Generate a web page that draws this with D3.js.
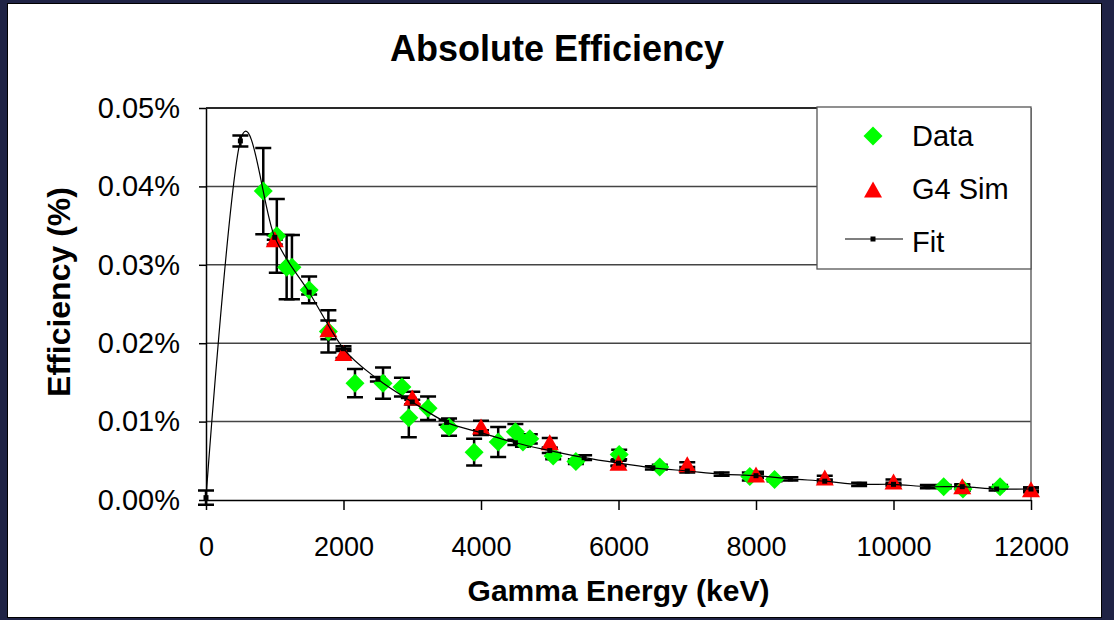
<!DOCTYPE html>
<html>
<head>
<meta charset="utf-8">
<script src="https://cdn.jsdelivr.net/npm/d3@7"></script>
<style>
  html, body { margin: 0; padding: 0; background: #1f2345; }
  svg { display: block; }
  text { font-family: "Liberation Sans", Arial, sans-serif; fill: #000; }
</style>
</head>
<body>
<svg id="chart" width="1114" height="620"></svg>
<script>
// Data series (energy in keV, efficiency in %)
const dataEnergy = [833, 1030, 1173, 1250, 1500, 1780, 2167, 2575, 2850, 2950, 3230, 3535, 3900, 4250, 4500, 4610, 4710, 5050, 5380, 6010, 6600, 7910, 8270, 10730, 11010, 11550];
const dataEff    = [0.0394, 0.0337, 0.0297, 0.0297, 0.0268, 0.0215, 0.0149, 0.0149, 0.0144, 0.0105, 0.0117, 0.0093, 0.0061, 0.0074, 0.0087, 0.0074, 0.0078, 0.0056, 0.0049, 0.0058, 0.0042, 0.0030, 0.0026, 0.0017, 0.0014, 0.0017];
const dataErr    = [0.0055, 0.0047, 0.0041, 0.0041, 0.0017, 0.0027, 0.0018, 0.0020, 0.0012, 0.0025, 0.0015, 0.0011, 0.0017, 0.0019, 0.0010, 0.0006, 0.0006, 0.0004, 0.0003, 0.0006, 0.0003, 0.0005, 0.0002, 0.0002, 0.0002, 0.0002];

// G4 simulation
const simEnergy = [1000, 1780, 2000, 3000, 4000, 5000, 6000, 7000, 8000, 9000, 10000, 11000, 12000];
const simEff    = [0.0332, 0.0217, 0.0187, 0.0130, 0.0093, 0.0073, 0.0047, 0.0045, 0.0032, 0.0028, 0.0023, 0.0017, 0.0013];
const simErr    = [0.0006, 0.0012, 0.0006, 0.0008, 0.0008, 0.0006, 0.0004, 0.0003, 0.0004, 0.0003, 0.0003, 0.0003, 0.0003];

// Fit
const fitEnergy = [0, 500, 1000, 1500, 2000, 2500, 3000, 3500, 4000, 4500, 5000, 5500, 6000, 6500, 7000, 7500, 8000, 8500, 9000, 9500, 10000, 10500, 11000, 11500, 12000];
const fitEff    = [0.0003, 0.0458, 0.0335, 0.0265, 0.0193, 0.0154, 0.0125, 0.0099, 0.0086, 0.0073, 0.0063, 0.0054, 0.0047, 0.0041, 0.0037, 0.0033, 0.0031, 0.0027, 0.0024, 0.0020, 0.0020, 0.0017, 0.0017, 0.0014, 0.0014];
const fitErr    = [0.0009, 0.0007, 0.0003, 0.0003, 0.0003, 0.0003, 0.0003, 0.0003, 0.0003, 0.0003, 0.0003, 0.0003, 0.0003, 0.0002, 0.0002, 0.0002, 0.0002, 0.0002, 0.0002, 0.0002, 0.0002, 0.0002, 0.0002, 0.0002, 0.0002];

const xTicks = [0, 2000, 4000, 6000, 8000, 10000, 12000];
const yTicks = [0, 0.01, 0.02, 0.03, 0.04, 0.05];

const svg = d3.select("#chart");

// Panel blanco
svg.append("rect")
    .attr("x", 7.5).attr("y", 3.5)
    .attr("width", 1094).attr("height", 614)
    .attr("fill", "#fff")
    .attr("stroke", "#000")
    .attr("stroke-width", 1);

const plotLeft = 206, plotRight = 1031, plotTop = 108, plotBottom = 500;
const x = d3.scaleLinear().domain([0, 12000]).range([plotLeft, plotRight]);
const y = d3.scaleLinear().domain([0, 0.05]).range([plotBottom, plotTop]);

// Rejilla
svg.append("g")
    .selectAll("line")
    .data(yTicks.filter(d => d > 0))
    .enter().append("line")
    .attr("x1", plotLeft).attr("x2", plotRight)
    .attr("y1", d => y(d)).attr("y2", d => y(d))
    .attr("stroke", "#444")
    .attr("stroke-width", 1.5);

// Borde derecho del área
svg.append("line")
    .attr("x1", plotRight).attr("x2", plotRight)
    .attr("y1", plotTop).attr("y2", plotBottom)
    .attr("stroke", "#666")
    .attr("stroke-width", 1.5);

// Ejes
const xAxis = svg.append("g")
    .attr("transform", `translate(0,${plotBottom})`)
    .call(d3.axisBottom(x).tickValues(xTicks).tickSize(10).tickSizeOuter(0).tickPadding(27).tickFormat(d3.format("d")));
xAxis.select(".domain").attr("stroke", "#000").attr("stroke-width", 1.5);
xAxis.selectAll(".tick line").attr("stroke", "#000").attr("stroke-width", 1.5);
xAxis.selectAll("text").attr("font-size", 27).attr("font-family", "Liberation Sans, Arial, sans-serif").attr("fill", "#000");

const yAxis = svg.append("g")
    .attr("transform", `translate(${plotLeft},0)`)
    .call(d3.axisLeft(y).tickValues(yTicks).tickSize(7).tickSizeOuter(0).tickPadding(19).tickFormat(d => d.toFixed(2) + "%"));
yAxis.select(".domain").attr("stroke", "#000").attr("stroke-width", 1.5);
yAxis.selectAll(".tick line").attr("stroke", "#000").attr("stroke-width", 1.5);
yAxis.selectAll("text").attr("font-size", 29).attr("font-family", "Liberation Sans, Arial, sans-serif").attr("fill", "#000");

// Barras de error
function errorBars(energy, eff, err) {
    const g = svg.append("g")
        .attr("stroke", "#000")
        .attr("stroke-width", 2.5)
        .attr("fill", "none");
    const rows = energy.map((e, i) => ({ e, v: eff[i], s: err[i] }));
    g.selectAll("path")
        .data(rows)
        .enter().append("path")
        .attr("d", d => {
            const cx = x(d.e), y0 = y(d.v - d.s), y1 = y(d.v + d.s);
            return `M${cx},${y0}V${y1}M${cx - 8},${y0}H${cx + 8}M${cx - 8},${y1}H${cx + 8}`;
        });
}
errorBars(fitEnergy, fitEff, fitErr);
errorBars(dataEnergy, dataEff, dataErr);
errorBars(simEnergy, simEff, simErr);

// Rombos verdes (Data)
const diamond = "M0,-9.5L9.5,0L0,9.5L-9.5,0Z";
svg.append("g")
    .selectAll("path")
    .data(dataEnergy.map((e, i) => [e, dataEff[i]]))
    .enter().append("path")
    .attr("d", diamond)
    .attr("transform", d => `translate(${x(d[0])},${y(d[1])})`)
    .attr("fill", "#00ff00");

// Triángulos rojos (G4 Sim)
const triangle = "M0,-8.5L9,7.5L-9,7.5Z";
svg.append("g")
    .selectAll("path")
    .data(simEnergy.map((e, i) => [e, simEff[i]]))
    .enter().append("path")
    .attr("d", triangle)
    .attr("transform", d => `translate(${x(d[0])},${y(d[1])})`)
    .attr("fill", "#ff0000");

// Curva de ajuste
const fitPts = fitEnergy.map((e, i) => [x(e), y(fitEff[i])]);
svg.append("path")
    .attr("d", d3.line().curve(d3.curveCardinal.tension(0))(fitPts))
    .attr("fill", "none")
    .attr("stroke", "#000")
    .attr("stroke-width", 1.2);

svg.append("g")
    .selectAll("rect")
    .data(fitPts)
    .enter().append("rect")
    .attr("x", d => d[0] - 2.5).attr("y", d => d[1] - 2.5)
    .attr("width", 5).attr("height", 5)
    .attr("fill", "#000");

// Borde superior
svg.append("line")
    .attr("x1", plotLeft).attr("x2", plotRight)
    .attr("y1", plotTop).attr("y2", plotTop)
    .attr("stroke", "#111")
    .attr("stroke-width", 1.5);

// Leyenda
const legend = svg.append("g").attr("transform", "translate(817,107)");
legend.append("rect")
    .attr("width", 214).attr("height", 162)
    .attr("fill", "#fff")
    .attr("stroke", "#555")
    .attr("stroke-width", 1.3);
legend.append("path").attr("d", diamond).attr("transform", "translate(56,29)").attr("fill", "#00ff00");
legend.append("path").attr("d", triangle).attr("transform", "translate(56,83)").attr("fill", "#ff0000");
legend.append("line").attr("x1", 28).attr("x2", 86).attr("y1", 132).attr("y2", 132).attr("stroke", "#000").attr("stroke-width", 1.2);
legend.append("rect").attr("x", 53.5).attr("y", 129.5).attr("width", 5).attr("height", 5).attr("fill", "#000");
const legendLabels = ["Data", "G4 Sim", "Fit"];
legend.selectAll("text")
    .data(legendLabels)
    .enter().append("text")
    .attr("x", 95)
    .attr("y", (d, i) => 39 + i * 53)
    .attr("font-size", 29)
    .text(d => d);

// Títulos
svg.append("text")
    .attr("x", 557).attr("y", 61)
    .attr("text-anchor", "middle")
    .attr("font-size", 36)
    .attr("font-weight", "bold")
    .text("Absolute Efficiency");

svg.append("text")
    .attr("x", 618.5).attr("y", 601)
    .attr("text-anchor", "middle")
    .attr("font-size", 30)
    .attr("font-weight", "bold")
    .text("Gamma Energy (keV)");

svg.append("text")
    .attr("transform", "translate(70,292) rotate(-90)")
    .attr("text-anchor", "middle")
    .attr("font-size", 32)
    .attr("font-weight", "bold")
    .text("Efficiency (%)");
</script>
</body>
</html>
